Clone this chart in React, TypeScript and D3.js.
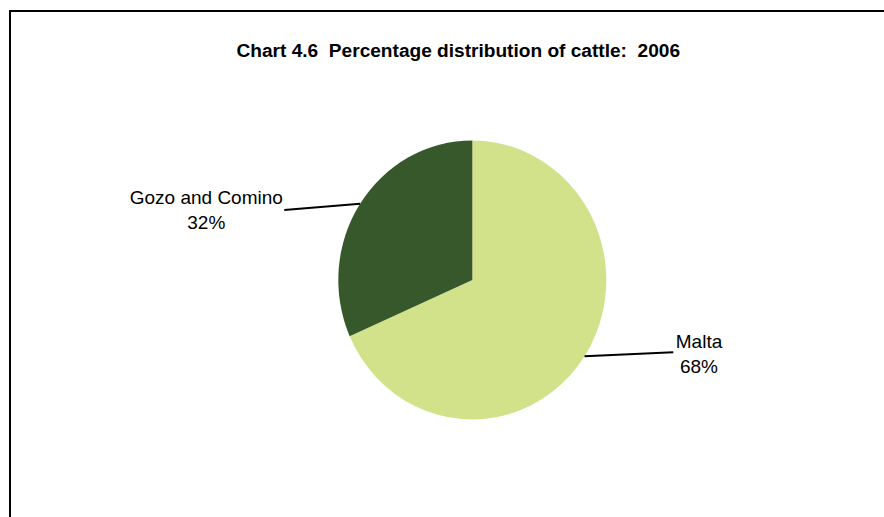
import React from "react";
import * as d3 from "d3";

const categories: string[] = ["Malta", "Gozo and Comino"];
const shares: number[] = [68.4, 31.6];
const colors: string[] = ["#D1E28A", "#37582B"];
const titleText = "Chart 4.6  Percentage distribution of cattle:  2006";

const W = 884;
const H = 517;
const cx = 472.3;
const cy = 280;
const ry = 139.5;
const rx = 134;

// label layout: [anchor x of label block, first baseline, leader end x, leader end y]
const labelLayout = [
  { tx: 699, ty: 348, ex: 673.3, ey: 352.3 },
  { tx: 206.3, ty: 204, ex: 284.3, ey: 210 },
];

export default function App() {
  const pie = d3
    .pie<number>()
    .sort(null)
    .value((d) => d)
    .startAngle(0)
    .endAngle(2 * Math.PI);
  const arcs = pie(shares);
  const arc = d3.arc<d3.PieArcDatum<number>>().innerRadius(0).outerRadius(ry);
  const total = d3.sum(shares);
  const font = "'Liberation Sans', Arial, Helvetica, sans-serif";

  return (
    <svg
      width={W}
      height={H}
      style={{ position: "absolute", left: 0, top: 0, background: "#fff" }}
    >
      <rect x={0} y={0} width={W} height={H} fill="#fff" />
      <rect x={10} y={11} width={900} height={700} fill="none" stroke="#000" strokeWidth={2} />
      <text
        x={458.3}
        y={57}
        textAnchor="middle"
        fontFamily={font}
        fontWeight="bold"
        fontSize={19.1}
        style={{ whiteSpace: "pre" }}
        fill="#000"
      >
        {titleText}
      </text>
      <g transform={`translate(${cx},${cy}) scale(${rx / ry},1)`}>
        {arcs.map((a, i) => (
          <path key={i} d={arc(a) || ""} fill={colors[i]} />
        ))}
      </g>
      {arcs.map((a, i) => {
        const mid = (a.startAngle + a.endAngle) / 2;
        const sx = cx + Math.sin(mid) * rx;
        const sy = cy - Math.cos(mid) * ry;
        const L = labelLayout[i];
        const pct = Math.round((shares[i] / total) * 100);
        return (
          <g key={"l" + i}>
            <line x1={sx} y1={sy} x2={L.ex} y2={L.ey} stroke="#000" strokeWidth={2} />
            <text
              x={L.tx}
              y={L.ty}
              textAnchor="middle"
              fontFamily={font}
              fontSize={19}
              fill="#000"
            >
              <tspan x={L.tx}>{categories[i]}</tspan>
              <tspan x={L.tx} dy={25}>{pct + "%"}</tspan>
            </text>
          </g>
        );
      })}
    </svg>
  );
}
